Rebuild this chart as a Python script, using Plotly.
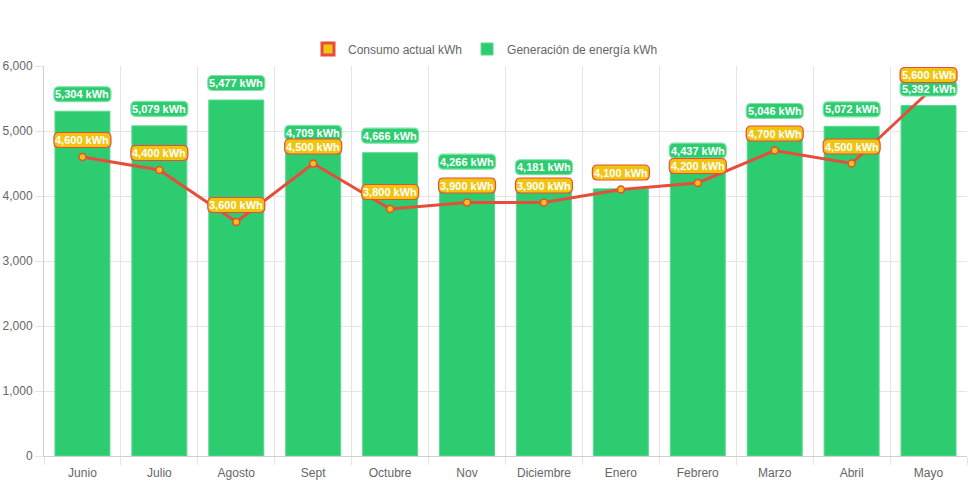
import plotly.graph_objects as go

meses = ["Junio", "Julio", "Agosto", "Sept", "Octubre", "Nov", "Diciembre",
         "Enero", "Febrero", "Marzo", "Abril", "Mayo"]
generacion = [5304, 5079, 5477, 4709, 4666, 4266, 4181, 4110, 4437, 5046, 5072, 5392]
consumo = [4600, 4400, 3600, 4500, 3800, 3900, 3900, 4100, 4200, 4700, 4500, 5600]
y_ticks = [0, 1000, 2000, 3000, 4000, 5000, 6000]

GREEN = "#2ecc71"
YELLOW = "#f1c40f"
RED = "#e74c3c"
FONT = "Liberation Sans, Arial, sans-serif"

W, H = 971, 485
ML, MR, MT, MB = 44, 4, 66, 29
YMAX = 6000
PX_PER_UNIT = (H - MT - MB) / YMAX

fig = go.Figure()

# legend proxy for line series (box style like Chart.js)
fig.add_trace(go.Bar(x=[meses[0]], y=[None], name="Consumo actual kWh",
                     marker=dict(color=YELLOW, line=dict(color=RED, width=3)),
                     legendgroup="c", showlegend=True, hoverinfo="skip"))

fig.add_trace(go.Bar(x=meses, y=generacion, name="Generación de energía kWh",
                     marker=dict(color=GREEN, line=dict(color="#5bd98f", width=1)),
                     legendgroup="g"))

fig.add_trace(go.Scatter(x=meses, y=consumo, mode="lines+markers",
                         name="Consumo actual kWh", showlegend=False, legendgroup="c",
                         line=dict(color=RED, width=3),
                         marker=dict(color=YELLOW, size=7, line=dict(color=RED, width=1.5))))


def rounded_box(w, h, r, dy):
    x0, x1 = -w / 2, w / 2
    y0, y1 = dy - h / 2, dy + h / 2
    return (f"M{x0 + r},{y0} L{x1 - r},{y0} Q{x1},{y0} {x1},{y0 + r} "
            f"L{x1},{y1 - r} Q{x1},{y1} {x1 - r},{y1} L{x0 + r},{y1} "
            f"Q{x0},{y1} {x0},{y1 - r} L{x0},{y0 + r} Q{x0},{y0} {x0 + r},{y0} Z")


BOX = rounded_box(57, 15, 5, 17)

shapes = []
annotations = []
for series, fill, border, is_bar in ((generacion, GREEN, "#7fe3a8", True),
                                      (consumo, YELLOW, RED, False)):
    for i, v in enumerate(series):
        # like chartjs-datalabels "auto": hide a bar label fully covered by the line label
        if is_bar and abs(v - consumo[i]) * PX_PER_UNIT < 12:
            continue
        shapes.append(dict(type="path", xref="x", yref="y", xsizemode="pixel",
                           ysizemode="pixel", xanchor=i, yanchor=v, path=BOX,
                           fillcolor=fill, line=dict(color=border, width=1.2),
                           layer="above"))
        annotations.append(dict(x=meses[i], y=v, xref="x", yref="y",
                                text=f"<b>{v:,} kWh</b>", showarrow=False,
                                yshift=17, yanchor="middle",
                                font=dict(family=FONT, size=11, color="white")))

fig.update_layout(
    width=W, height=H,
    margin=dict(l=ML, r=MR, t=MT, b=MB, autoexpand=False),
    paper_bgcolor="white", plot_bgcolor="white",
    barmode="overlay", bargap=0.285,
    font=dict(family=FONT, size=12, color="#666"),
    shapes=shapes,
    annotations=annotations,
    legend=dict(orientation="h", xref="container", yref="container",
                x=0.5, xanchor="center", y=1 - 49 / H, yanchor="middle",
                font=dict(family=FONT, size=12, color="#666"),
                traceorder="normal", itemclick=False),
    showlegend=True,
)
fig.update_xaxes(type="category", range=[-0.5, len(meses) - 0.5],
                 tickson="boundaries", ticks="outside", ticklen=8,
                 ticklabelstandoff=6,
                 tickcolor="#e5e5e5", showgrid=True, gridcolor="#e5e5e5",
                 showline=True, linecolor="#d0d0d0", mirror=False, automargin=False,
                 tickfont=dict(family=FONT, size=12, color="#666"))
fig.update_yaxes(range=[0, YMAX], tickvals=y_ticks, tickformat=",", ticks="outside",
                 ticklen=8, tickcolor="#e5e5e5", showgrid=True, gridcolor="#e5e5e5",
                 showline=True, linecolor="#d0d0d0", zeroline=False, automargin=False,
                 tickfont=dict(family=FONT, size=12, color="#666"))

fig.write_html("out.html", config={"displayModeBar": False},
               post_script="document.body.style.margin='0';document.body.style.overflow='hidden';")
